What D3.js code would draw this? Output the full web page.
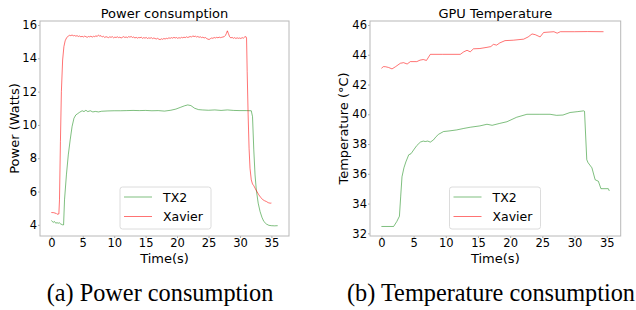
<!DOCTYPE html>
<html lang="en">
<head>
    <meta charset="UTF-8">
    <title>Power and temperature</title>
    <script src="https://cdn.jsdelivr.net/npm/d3@7"></script>
    <style>
        body { margin: 0; background: #fff; }
        text { font-family: "DejaVu Sans", sans-serif; fill: #000; }
        .caption { font-family: "Liberation Serif", "Times New Roman", serif; }
    </style>
</head>
<body>
<script>
    const [width, height] = [636, 310]

    // [time (s), watts]
    const tx2Power = [
        [0, 4.26], [0.3, 4.15], [0.5, 4.2], [0.7, 4.1], [0.9, 4.13], [1.1, 4.1], [1.3, 4.12],
        [1.5, 4.05], [1.8, 4.0], [1.95, 4.0], [2.1, 5.5], [2.4, 7.0], [2.7, 8.2], [3.0, 9.1],
        [3.3, 9.9], [3.6, 10.4], [3.9, 10.6], [4.2, 10.68], [4.5, 10.76], [4.9, 10.85],
        [5.2, 10.8], [5.5, 10.88], [5.8, 10.8], [6.2, 10.85], [6.6, 10.78], [7.0, 10.81],
        [7.5, 10.78], [8.0, 10.82], [9, 10.84], [10, 10.85], [11, 10.85], [12, 10.86],
        [13, 10.87], [14, 10.86], [15, 10.87], [16, 10.85], [17, 10.86], [18, 10.83],
        [19, 10.88], [19.8, 10.95], [20.5, 11.05], [21.2, 11.15], [21.7, 11.2], [22.2, 11.16],
        [22.8, 11.0], [23.4, 10.92], [24, 10.9], [25, 10.88], [26, 10.9], [27, 10.87],
        [28, 10.9], [29, 10.87], [30, 10.86], [31, 10.86], [31.8, 10.85], [32.0, 10.5],
        [32.2, 8.5], [32.4, 7.0], [32.6, 6.1], [32.9, 5.3], [33.2, 4.8], [33.5, 4.45],
        [33.8, 4.2], [34.2, 4.05], [34.6, 3.97], [35, 3.95], [35.5, 3.94], [36, 3.95]
    ]
    const xavierPower = [
        [0, 4.74], [0.4, 4.73], [0.8, 4.68], [0.9, 4.64], [1.2, 4.65], [1.3, 5.5], [1.45, 9.0],
        [1.6, 12.0], [1.8, 13.9], [2.0, 14.7], [2.2, 15.05], [2.45, 15.25], [2.7, 15.33],
        [2.9, 15.38], [3.1, 15.36], [3.3, 15.4], [3.5, 15.35], [3.7, 15.37], [3.9, 15.33],
        [4.1, 15.36], [4.3, 15.31], [4.5, 15.34], [4.7, 15.29], [4.9, 15.32], [5.1, 15.28],
        [5.3, 15.33], [5.5, 15.3], [5.7, 15.26], [5.9, 15.31], [6.1, 15.29], [6.3, 15.33],
        [6.5, 15.27], [6.7, 15.32], [6.9, 15.3], [7.1, 15.35], [7.3, 15.31], [7.5, 15.4],
        [7.7, 15.33], [7.9, 15.36], [8.1, 15.28], [8.3, 15.32], [8.5, 15.25], [8.7, 15.3],
        [8.9, 15.27], [9.1, 15.24], [9.3, 15.29], [9.5, 15.26], [9.7, 15.3], [9.9, 15.23],
        [10.1, 15.27], [10.3, 15.25], [10.5, 15.29], [10.7, 15.24], [10.9, 15.27], [11.1, 15.22],
        [11.3, 15.26], [11.5, 15.3], [11.7, 15.25], [11.9, 15.28], [12.1, 15.24], [12.3, 15.3],
        [12.5, 15.27], [12.7, 15.31], [12.9, 15.25], [13.1, 15.28], [13.3, 15.22], [13.5, 15.26],
        [13.7, 15.21], [13.9, 15.25], [14.1, 15.23], [14.3, 15.27], [14.5, 15.2], [14.7, 15.24],
        [14.9, 15.21], [15.1, 15.25], [15.3, 15.19], [15.5, 15.23], [15.7, 15.2], [15.9, 15.24],
        [16.1, 15.18], [16.3, 15.22], [16.5, 15.19], [16.7, 15.16], [16.9, 15.2], [17.1, 15.15],
        [17.3, 15.12], [17.5, 15.17], [17.7, 15.14], [17.9, 15.19], [18.1, 15.16], [18.3, 15.2],
        [18.5, 15.18], [18.7, 15.23], [18.9, 15.2], [19.1, 15.24], [19.3, 15.21], [19.5, 15.26],
        [19.7, 15.22], [19.9, 15.25], [20.1, 15.2], [20.3, 15.24], [20.5, 15.21], [20.7, 15.26],
        [20.9, 15.23], [21.1, 15.27], [21.3, 15.24], [21.5, 15.29], [21.7, 15.25], [21.9, 15.28],
        [22.1, 15.31], [22.3, 15.27], [22.5, 15.35], [22.7, 15.3], [22.9, 15.33], [23.1, 15.28],
        [23.3, 15.31], [23.5, 15.26], [23.7, 15.29], [23.9, 15.24], [24.1, 15.27], [24.3, 15.22],
        [24.5, 15.25], [24.7, 15.19], [24.9, 15.15], [25.1, 15.13], [25.3, 15.18], [25.5, 15.22],
        [25.7, 15.2], [25.9, 15.25], [26.1, 15.22], [26.3, 15.26], [26.5, 15.23], [26.7, 15.27],
        [26.9, 15.24], [27.1, 15.26], [27.3, 15.28], [27.5, 15.3], [27.7, 15.38], [27.85, 15.5],
        [28.0, 15.65], [28.15, 15.5], [28.35, 15.3], [28.55, 15.22], [28.75, 15.26], [28.95, 15.2],
        [29.15, 15.24], [29.35, 15.19], [29.55, 15.23], [29.75, 15.2], [29.95, 15.22],
        [30.15, 15.19], [30.35, 15.24], [30.55, 15.21], [30.75, 15.28], [30.95, 15.3],
        [31.05, 15.22], [31.15, 13.2], [31.3, 10.6], [31.45, 8.6], [31.6, 7.4], [31.8, 6.7],
        [32.0, 6.45], [32.2, 6.35], [32.4, 6.2], [32.7, 6.0], [33.0, 5.8], [33.3, 5.65],
        [33.6, 5.52], [33.9, 5.45], [34.2, 5.4], [34.5, 5.33], [34.8, 5.3], [35.0, 5.31]
    ]

    // [time (s), °C]
    const tx2Temp = [
        [0, 32.46], [1.9, 32.46], [2.4, 32.8], [2.8, 33.15], [3.0, 34.5], [3.2, 35.8],
        [3.5, 36.4], [3.8, 36.8], [4.25, 37.28], [4.6, 37.35], [5.0, 37.6], [5.5, 37.9],
        [6.05, 38.13], [6.5, 38.2], [6.8, 38.17], [7.2, 38.2], [7.6, 38.13], [8.1, 38.28],
        [8.5, 38.5], [8.9, 38.66], [9.65, 38.84], [10.5, 38.88], [11.7, 38.95], [12.8, 39.05],
        [13.8, 39.13], [15.3, 39.22], [16.4, 39.33], [17.2, 39.26], [18.3, 39.38],
        [19.5, 39.5], [21.0, 39.8], [22.6, 40.0], [24.5, 40.0], [26.2, 40.0], [27.2, 39.93],
        [28.2, 39.95], [29.3, 40.12], [30.5, 40.18], [31.4, 40.23], [31.55, 40.2],
        [31.9, 36.95], [32.1, 36.75], [32.7, 36.4], [33.2, 35.6], [33.7, 35.5], [34.1, 35.0],
        [35.25, 35.0], [35.4, 34.85]
    ]
    const xavierTemp = [
        [0, 43.09], [0.3, 43.2], [0.6, 43.2], [1.1, 43.15], [1.65, 43.05], [2.2, 43.2],
        [2.95, 43.43], [3.45, 43.47], [4.0, 43.38], [4.5, 43.54], [5.5, 43.54], [6.0, 43.64],
        [6.5, 43.68], [7.0, 43.62], [7.6, 44.03], [9.5, 44.03], [12.25, 44.03], [12.8, 44.2],
        [13.3, 44.3], [13.8, 44.2], [14.3, 44.4], [15.3, 44.42], [16.4, 44.5], [17.0, 44.55],
        [17.4, 44.7], [17.9, 44.65], [18.4, 44.8], [19.2, 44.95], [20.5, 44.98], [22.1, 45.05],
        [22.8, 45.2], [23.4, 45.4], [23.9, 45.35], [24.65, 45.2], [25.2, 45.5], [26.8, 45.55],
        [27.3, 45.45], [27.8, 45.55], [30, 45.55], [32, 45.56], [34.5, 45.55]
    ]

    const seriesNames = ['TX2', 'Xavier']
    const seriesColors = ['rgba(0,128,0,0.5)', 'rgba(255,0,0,0.55)']
    const xTicks = [0, 5, 10, 15, 20, 25, 30, 35]
    const powerTicks = [4, 6, 8, 10, 12, 14, 16]
    const tempTicks = [32, 34, 36, 38, 40, 42, 44, 46]

    const svg = d3.select('body').append('svg')
        .attr('width', width)
        .attr('height', height)

    const panel = (cfg) => {
        const g = svg.append('g')
        const x = d3.scaleLinear().domain(cfg.xDomain).range([cfg.left, cfg.right])
        const y = d3.scaleLinear().domain(cfg.yDomain).range([cfg.bottom, cfg.top])

        const xAxis = g.append('g')
            .attr('transform', `translate(0,${cfg.bottom})`)
            .call(d3.axisBottom(x).tickValues(xTicks).tickSize(2).tickPadding(1))
        const yAxis = g.append('g')
            .attr('transform', `translate(${cfg.left},0)`)
            .call(d3.axisLeft(y).tickValues(cfg.yTicks).tickSize(2).tickPadding(1))
        ;[xAxis, yAxis].forEach(a => {
            a.select('.domain').remove()
            a.selectAll('line').attr('stroke', '#b0b0b0')
            a.selectAll('text').attr('font-size', 11.5).attr('font-family', 'DejaVu Sans').attr('fill', '#000')
        })

        g.append('rect')
            .attr('x', cfg.left).attr('y', cfg.top)
            .attr('width', cfg.right - cfg.left).attr('height', cfg.bottom - cfg.top)
            .attr('fill', 'none').attr('stroke', '#b8b8b8').attr('stroke-width', 1)

        const line = d3.line().x(d => x(d[0])).y(d => y(d[1]))
        cfg.series.forEach((s, i) => {
            g.append('path')
                .datum(s)
                .attr('fill', 'none')
                .attr('stroke', seriesColors[i])
                .attr('stroke-width', 1)
                .attr('stroke-linejoin', 'round')
                .attr('d', line)
        })

        const cx = (cfg.left + cfg.right) / 2
        g.append('text').attr('x', cx).attr('y', 18)
            .attr('text-anchor', 'middle').attr('font-size', 13).text(cfg.title)
        g.append('text').attr('x', cx).attr('y', 262.5)
            .attr('text-anchor', 'middle').attr('font-size', 13).text('Time(s)')
        g.append('text')
            .attr('transform', `translate(${cfg.yLabelX},${(cfg.top + cfg.bottom) / 2}) rotate(-90)`)
            .attr('text-anchor', 'middle').attr('dominant-baseline', 'central')
            .attr('font-size', 13).text(cfg.yLabel)

        // legend
        const lg = g.append('g').attr('transform', `translate(${cfg.legendX},187)`)
        lg.append('rect').attr('width', 91).attr('height', 42).attr('rx', 2.5)
            .attr('fill', 'rgba(255,255,255,0.8)').attr('stroke', '#dcdcdc')
        seriesNames.forEach((n, i) => {
            const ly = 10 + i * 19.5
            lg.append('line').attr('x1', 4).attr('x2', 32).attr('y1', ly).attr('y2', ly)
                .attr('stroke', seriesColors[i]).attr('stroke-width', 1)
            lg.append('text').attr('x', 43).attr('y', ly).attr('dominant-baseline', 'central')
                .attr('font-size', 12.5).text(n)
        })

        svg.append('text').attr('class', 'caption')
            .attr('x', cfg.captionX).attr('y', 301)
            .attr('text-anchor', 'middle').attr('font-size', 24.3)
            .text(cfg.caption)
    }

    panel({
        left: 40, right: 289, top: 21, bottom: 236,
        xDomain: [-1.8, 37.8], yDomain: [3.33, 16.24], yTicks: powerTicks,
        series: [tx2Power, xavierPower],
        title: 'Power consumption', yLabel: 'Power (Watts)', yLabelX: 14,
        legendX: 120, captionX: 160, caption: '(a) Power consumption'
    })
    panel({
        left: 370, right: 620.7, top: 21, bottom: 236,
        xDomain: [-1.77, 37.17], yDomain: [31.82, 46.27], yTicks: tempTicks,
        series: [tx2Temp, xavierTemp],
        title: 'GPU Temperature', yLabel: 'Temperature (°C)', yLabelX: 343.5,
        legendX: 449.5, captionX: 491, caption: '(b) Temperature consumption'
    })
</script>
</body>
</html>
